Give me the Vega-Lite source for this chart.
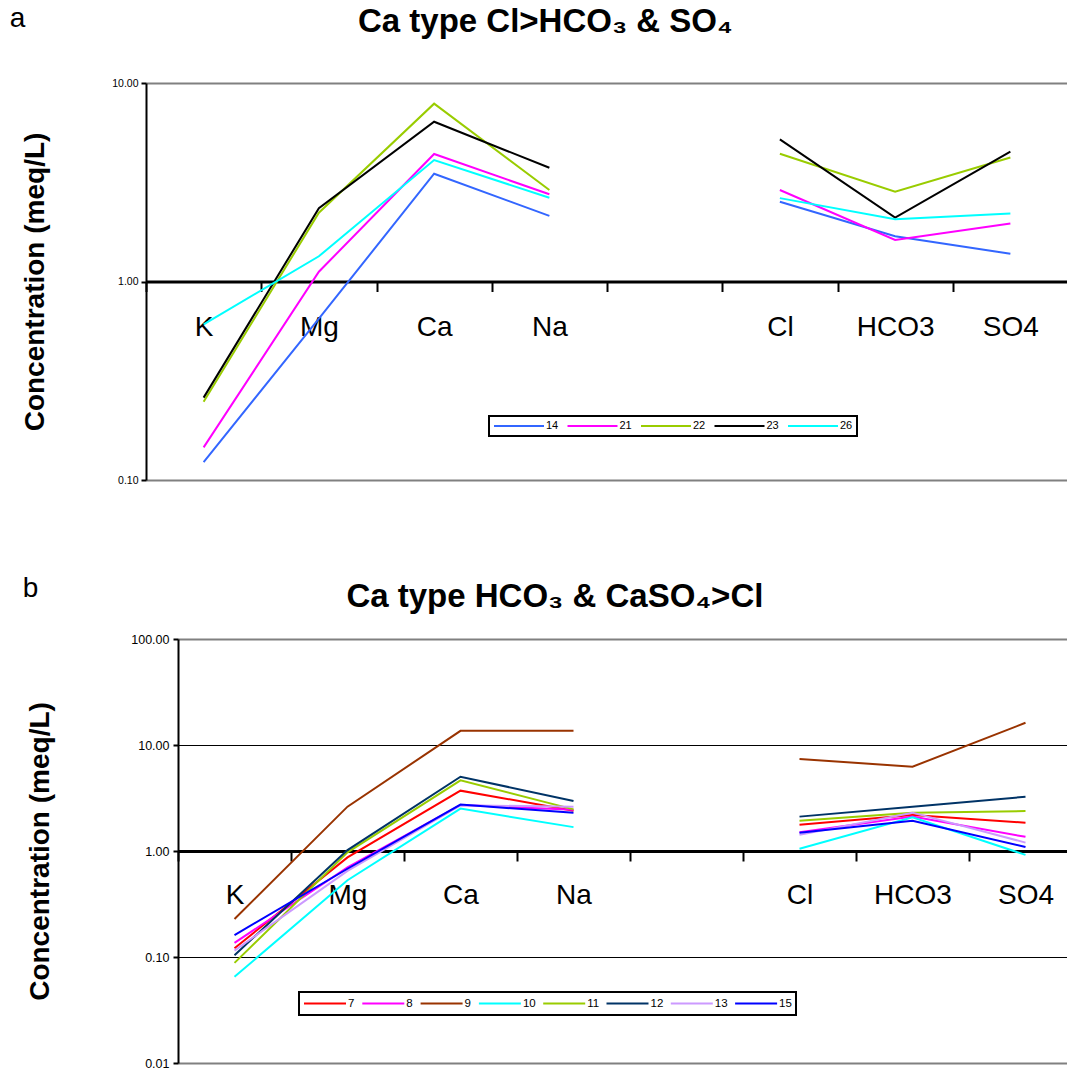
{
  "$schema": "https://vega.github.io/schema/vega-lite/v6.json",
  "background": "white",
  "padding": {"left": 9, "top": 5, "right": 0, "bottom": 0},
  "config": {
    "font": "Liberation Sans",
    "view": {"stroke": null},
    "legend": {"strokeWidth": 2},
    "title": {"color": "black"}
  },
  "datasets": {
    "typeA": [
      {"sample": "14", "group": "cation", "ion": "K", "meq": 0.123},
      {"sample": "14", "group": "cation", "ion": "Mg", "meq": 0.65},
      {"sample": "14", "group": "cation", "ion": "Ca", "meq": 3.49},
      {"sample": "14", "group": "cation", "ion": "Na", "meq": 2.14},
      {"sample": "14", "group": "anion", "ion": "Cl", "meq": 2.52},
      {"sample": "14", "group": "anion", "ion": "HCO3", "meq": 1.69},
      {"sample": "14", "group": "anion", "ion": "SO4", "meq": 1.38},
      {"sample": "21", "group": "cation", "ion": "K", "meq": 0.146},
      {"sample": "21", "group": "cation", "ion": "Mg", "meq": 1.12},
      {"sample": "21", "group": "cation", "ion": "Ca", "meq": 4.39},
      {"sample": "21", "group": "cation", "ion": "Na", "meq": 2.75},
      {"sample": "21", "group": "anion", "ion": "Cl", "meq": 2.89},
      {"sample": "21", "group": "anion", "ion": "HCO3", "meq": 1.62},
      {"sample": "21", "group": "anion", "ion": "SO4", "meq": 1.96},
      {"sample": "22", "group": "cation", "ion": "K", "meq": 0.248},
      {"sample": "22", "group": "cation", "ion": "Mg", "meq": 2.22},
      {"sample": "22", "group": "cation", "ion": "Ca", "meq": 7.87},
      {"sample": "22", "group": "cation", "ion": "Na", "meq": 2.89},
      {"sample": "22", "group": "anion", "ion": "Cl", "meq": 4.40},
      {"sample": "22", "group": "anion", "ion": "HCO3", "meq": 2.83},
      {"sample": "22", "group": "anion", "ion": "SO4", "meq": 4.21},
      {"sample": "23", "group": "cation", "ion": "K", "meq": 0.260},
      {"sample": "23", "group": "cation", "ion": "Mg", "meq": 2.34},
      {"sample": "23", "group": "cation", "ion": "Ca", "meq": 6.38},
      {"sample": "23", "group": "cation", "ion": "Na", "meq": 3.74},
      {"sample": "23", "group": "anion", "ion": "Cl", "meq": 5.20},
      {"sample": "23", "group": "anion", "ion": "HCO3", "meq": 2.10},
      {"sample": "23", "group": "anion", "ion": "SO4", "meq": 4.51},
      {"sample": "26", "group": "cation", "ion": "K", "meq": 0.608},
      {"sample": "26", "group": "cation", "ion": "Mg", "meq": 1.34},
      {"sample": "26", "group": "cation", "ion": "Ca", "meq": 4.09},
      {"sample": "26", "group": "cation", "ion": "Na", "meq": 2.64},
      {"sample": "26", "group": "anion", "ion": "Cl", "meq": 2.63},
      {"sample": "26", "group": "anion", "ion": "HCO3", "meq": 2.06},
      {"sample": "26", "group": "anion", "ion": "SO4", "meq": 2.20}
    ],
    "typeB": [
      {"sample": "7", "group": "cation", "ion": "K", "meq": 0.121},
      {"sample": "7", "group": "cation", "ion": "Mg", "meq": 0.87},
      {"sample": "7", "group": "cation", "ion": "Ca", "meq": 3.71},
      {"sample": "7", "group": "cation", "ion": "Na", "meq": 2.40},
      {"sample": "7", "group": "anion", "ion": "Cl", "meq": 1.77},
      {"sample": "7", "group": "anion", "ion": "HCO3", "meq": 2.19},
      {"sample": "7", "group": "anion", "ion": "SO4", "meq": 1.85},
      {"sample": "8", "group": "cation", "ion": "K", "meq": 0.136},
      {"sample": "8", "group": "cation", "ion": "Mg", "meq": 0.70},
      {"sample": "8", "group": "cation", "ion": "Ca", "meq": 2.72},
      {"sample": "8", "group": "cation", "ion": "Na", "meq": 2.45},
      {"sample": "8", "group": "anion", "ion": "Cl", "meq": 1.50},
      {"sample": "8", "group": "anion", "ion": "HCO3", "meq": 2.11},
      {"sample": "8", "group": "anion", "ion": "SO4", "meq": 1.36},
      {"sample": "9", "group": "cation", "ion": "K", "meq": 0.228},
      {"sample": "9", "group": "cation", "ion": "Mg", "meq": 2.62},
      {"sample": "9", "group": "cation", "ion": "Ca", "meq": 13.6},
      {"sample": "9", "group": "cation", "ion": "Na", "meq": 13.6},
      {"sample": "9", "group": "anion", "ion": "Cl", "meq": 7.38},
      {"sample": "9", "group": "anion", "ion": "HCO3", "meq": 6.24},
      {"sample": "9", "group": "anion", "ion": "SO4", "meq": 16.2},
      {"sample": "10", "group": "cation", "ion": "K", "meq": 0.065},
      {"sample": "10", "group": "cation", "ion": "Mg", "meq": 0.53},
      {"sample": "10", "group": "cation", "ion": "Ca", "meq": 2.51},
      {"sample": "10", "group": "cation", "ion": "Na", "meq": 1.68},
      {"sample": "10", "group": "anion", "ion": "Cl", "meq": 1.05},
      {"sample": "10", "group": "anion", "ion": "HCO3", "meq": 2.08},
      {"sample": "10", "group": "anion", "ion": "SO4", "meq": 0.92},
      {"sample": "11", "group": "cation", "ion": "K", "meq": 0.088},
      {"sample": "11", "group": "cation", "ion": "Mg", "meq": 0.97},
      {"sample": "11", "group": "cation", "ion": "Ca", "meq": 4.64},
      {"sample": "11", "group": "cation", "ion": "Na", "meq": 2.47},
      {"sample": "11", "group": "anion", "ion": "Cl", "meq": 1.93},
      {"sample": "11", "group": "anion", "ion": "HCO3", "meq": 2.30},
      {"sample": "11", "group": "anion", "ion": "SO4", "meq": 2.38},
      {"sample": "12", "group": "cation", "ion": "K", "meq": 0.104},
      {"sample": "12", "group": "cation", "ion": "Mg", "meq": 1.02},
      {"sample": "12", "group": "cation", "ion": "Ca", "meq": 5.02},
      {"sample": "12", "group": "cation", "ion": "Na", "meq": 2.96},
      {"sample": "12", "group": "anion", "ion": "Cl", "meq": 2.11},
      {"sample": "12", "group": "anion", "ion": "HCO3", "meq": 2.62},
      {"sample": "12", "group": "anion", "ion": "SO4", "meq": 3.25},
      {"sample": "13", "group": "cation", "ion": "K", "meq": 0.115},
      {"sample": "13", "group": "cation", "ion": "Mg", "meq": 0.65},
      {"sample": "13", "group": "cation", "ion": "Ca", "meq": 2.70},
      {"sample": "13", "group": "cation", "ion": "Na", "meq": 2.62},
      {"sample": "13", "group": "anion", "ion": "Cl", "meq": 1.42},
      {"sample": "13", "group": "anion", "ion": "HCO3", "meq": 2.30},
      {"sample": "13", "group": "anion", "ion": "SO4", "meq": 1.20},
      {"sample": "15", "group": "cation", "ion": "K", "meq": 0.161},
      {"sample": "15", "group": "cation", "ion": "Mg", "meq": 0.68},
      {"sample": "15", "group": "cation", "ion": "Ca", "meq": 2.74},
      {"sample": "15", "group": "cation", "ion": "Na", "meq": 2.30},
      {"sample": "15", "group": "anion", "ion": "Cl", "meq": 1.49},
      {"sample": "15", "group": "anion", "ion": "HCO3", "meq": 1.93},
      {"sample": "15", "group": "anion", "ion": "SO4", "meq": 1.09}
    ]
  },
  "columns": 1,
  "align": "none",
  "spacing": 89,
  "resolve": {
    "scale": {"x": "independent", "y": "independent", "color": "independent"},
    "legend": {"color": "independent"},
    "axis": {"x": "independent", "y": "independent"}
  },
  "concat": [
    {
      "title": {"text": "a", "anchor": "start", "frame": "bounds", "fontSize": 28, "fontWeight": "normal", "baseline": "alphabetic", "dx": -12, "offset": -49},
      "vconcat": [
        {
          "width": 922,
          "height": 397,
          "title": {"text": "Ca type Cl>HCO₃ & SO₄", "anchor": "middle", "frame": "bounds", "fontSize": 33, "fontWeight": "bold", "baseline": "alphabetic", "offset": 13},
          "data": {"name": "typeA"},
          "mark": {"type": "line", "strokeWidth": 2},
          "encoding": {
            "x": {
              "field": "ion", "type": "nominal",
              "sort": ["K", "Mg", "Ca", "Na", " ", "Cl", "HCO3", "SO4"],
              "scale": {"domain": ["K", "Mg", "Ca", "Na", " ", "Cl", "HCO3", "SO4"], "paddingInner": 0, "paddingOuter": 0},
              "axis": {"orient": "bottom", "offset": -198.5, "title": null, "grid": false, "domainColor": "black", "domainWidth": 3, "tickBand": "extent", "tickColor": "black", "tickWidth": 2, "tickSize": 10, "labelAngle": 0, "labelFontSize": 28, "labelColor": "black", "labelPadding": 22}
            },
            "y": {
              "field": "meq", "type": "quantitative",
              "scale": {"type": "log", "domain": [0.1, 10]},
              "axis": {
                "values": [0.1, 1, 10], "format": ".2f", "labelFontSize": 10.5, "labelColor": "black", "labelPadding": 3,
                "tickSize": 5, "tickColor": "black", "tickWidth": 2, "domainColor": "black", "domainWidth": 2,
                "grid": true,
                "gridColor": {"condition": {"test": "datum.value <= 0.1 || datum.value >= 10", "value": "#808080"}, "value": "black"},
                "gridWidth": {"condition": {"test": "datum.value <= 0.1 || datum.value >= 10", "value": 2}, "value": 1},
                "title": "Concentration (meq/L)", "titleFontSize": 28, "titleFontWeight": "bold", "titleColor": "black", "titlePadding": 62
              }
            },
            "color": {
              "field": "sample", "type": "nominal",
              "scale": {"domain": ["14", "21", "22", "23", "26"], "range": ["#3366FF", "#FF00FF", "#99CC00", "#000000", "#00FFFF"]},
              "legend": {"title": null, "orient": "none", "legendX": 343, "legendY": 333, "direction": "horizontal", "columns": 5, "symbolType": "M-1,0H1", "symbolSize": 2500, "symbolStrokeWidth": 2, "clipHeight": 12, "labelFontSize": 11, "labelColor": "black", "labelOffset": 1, "columnPadding": 7.5, "padding": 4, "strokeColor": "black", "fillColor": "white"}
            },
            "detail": {"field": "group", "type": "nominal"}
          }
        }
      ]
    },
    {
      "title": {"text": "b", "anchor": "start", "frame": "bounds", "fontSize": 28, "fontWeight": "normal", "baseline": "alphabetic", "dx": -4, "offset": -44},
      "vconcat": [
        {
          "width": 936,
          "height": 424,
          "title": {"text": "Ca type HCO₃ & CaSO₄>Cl", "anchor": "middle", "frame": "bounds", "fontSize": 33, "fontWeight": "bold", "baseline": "alphabetic", "offset": -7},
          "data": {"name": "typeB"},
          "mark": {"type": "line", "strokeWidth": 2},
          "encoding": {
            "x": {
              "field": "ion", "type": "nominal",
              "sort": ["K", "Mg", "Ca", "Na", " ", "Cl", "HCO3", "SO4"],
              "scale": {"domain": ["K", "Mg", "Ca", "Na", " ", "Cl", "HCO3", "SO4"], "range": [32, 936], "paddingInner": 0, "paddingOuter": 0},
              "axis": {"orient": "bottom", "offset": -212, "title": null, "grid": false, "domainColor": "black", "domainWidth": 3, "tickBand": "extent", "tickColor": "black", "tickWidth": 2, "tickSize": 10, "labelAngle": 0, "labelFontSize": 28, "labelColor": "black", "labelPadding": 20}
            },
            "y": {
              "field": "meq", "type": "quantitative",
              "scale": {"type": "log", "domain": [0.01, 100]},
              "axis": {
                "offset": -32,
                "values": [0.01, 0.1, 1, 10, 100], "format": ".2f", "labelFontSize": 12.5, "labelColor": "black", "labelPadding": 4,
                "tickSize": 5, "tickColor": "black", "tickWidth": 2, "domainColor": "black", "domainWidth": 2,
                "grid": true,
                "gridColor": {"condition": {"test": "datum.value <= 0.01 || datum.value >= 100", "value": "#808080"}, "value": "black"},
                "gridWidth": {"condition": {"test": "datum.value <= 0.01 || datum.value >= 100", "value": 2}, "value": 1},
                "title": "Concentration (meq/L)", "titleFontSize": 28, "titleFontWeight": "bold", "titleColor": "black", "titlePadding": 76
              }
            },
            "color": {
              "field": "sample", "type": "nominal",
              "scale": {"domain": ["7", "8", "9", "10", "11", "12", "13", "15"], "range": ["#FF0000", "#FF00FF", "#993300", "#00FFFF", "#99CC00", "#003366", "#CC99FF", "#0000FF"]},
              "legend": {"title": null, "orient": "none", "legendX": 153, "legendY": 353, "direction": "horizontal", "columns": 8, "symbolType": "M-1,0H1", "symbolSize": 1764, "symbolStrokeWidth": 2, "clipHeight": 15, "labelFontSize": 11.5, "labelColor": "black", "labelOffset": 1, "columnPadding": 6.3, "padding": 4, "strokeColor": "black", "fillColor": "white"}
            },
            "detail": {"field": "group", "type": "nominal"}
          }
        }
      ]
    }
  ]
}
